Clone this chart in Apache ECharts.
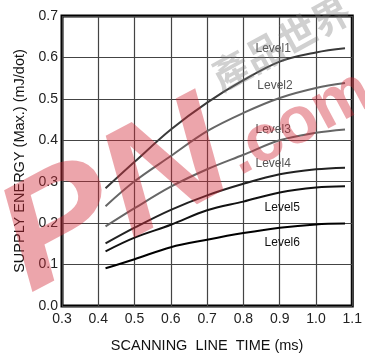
<!DOCTYPE html>
<html>
<head>
<meta charset="utf-8">
<script src="https://cdn.jsdelivr.net/npm/echarts@6/dist/echarts.min.js"></script>
<style>
  html, body { margin: 0; padding: 0; background: #fff; }
  #chart { width: 365px; height: 358px; }
</style>
</head>
<body>
<div id="chart"></div>
<script>
// scanning line time (ms)
const lineTimes = [0.42, 0.5, 0.6, 0.7, 0.8, 0.9, 1.0, 1.08]
const levelNames = ['Level1', 'Level2', 'Level3', 'Level4', 'Level5', 'Level6']
// supply energy (mJ/dot)
const level1 = [0.284, 0.348, 0.426, 0.491, 0.545, 0.590, 0.612, 0.622]
const level2 = [0.241, 0.301, 0.362, 0.422, 0.466, 0.502, 0.526, 0.538]
const level3 = [0.192, 0.236, 0.288, 0.330, 0.365, 0.400, 0.418, 0.426]
const level4 = [0.151, 0.189, 0.232, 0.267, 0.295, 0.318, 0.330, 0.334]
const level5 = [0.132, 0.165, 0.196, 0.231, 0.252, 0.274, 0.286, 0.289]
const level6 = [0.091, 0.113, 0.142, 0.160, 0.176, 0.189, 0.197, 0.199]
const xTicks = [0.3, 0.4, 0.5, 0.6, 0.7, 0.8, 0.9, 1.0, 1.1]
const yTicks = [0.0, 0.1, 0.2, 0.3, 0.4, 0.5, 0.6, 0.7]

const levels = [level1, level2, level3, level4, level5, level6]
// where each level's name is written (data units)
const labelAnchors = [[0.882, 0.621], [0.887, 0.532], [0.882, 0.426], [0.882, 0.344], [0.907, 0.238], [0.907, 0.154]]
const lineColors = ['#3a3a3a', '#666', '#666', '#222', '#111', '#000']
const labelColors = ['#555', '#555', '#555', '#555', '#111', '#111']

const font = 'Liberation Sans, Arial, sans-serif'
const myChart = echarts.init(document.getElementById('chart'))

const series = levels.map(function (vals, i) {
  return {
    name: levelNames[i],
    type: 'line',
    smooth: 0.35,
    showSymbol: false,
    symbol: 'none',
    z: 3,
    lineStyle: { color: lineColors[i], width: 2 },
    data: vals.map(function (v, j) { return [lineTimes[j], v] }),
    markPoint: {
      symbol: 'circle',
      symbolSize: 1,
      itemStyle: { color: 'rgba(0,0,0,0)' },
      label: {
        show: true,
        position: 'inside',
        formatter: levelNames[i],
        color: labelColors[i],
        fontFamily: font,
        fontSize: 12
      },
      data: [{ coord: labelAnchors[i] }]
    }
  }
})

const option = {
  animation: false,
  backgroundColor: '#fff',
  grid: {
    left: 62, right: 10, top: 16, bottom: 51,
    show: true,
    borderColor: '#000',
    borderWidth: 3
  },
  xAxis: {
    type: 'value',
    min: xTicks[0],
    max: xTicks[xTicks.length - 1],
    interval: 0.1,
    name: 'SCANNING  LINE  TIME (ms)',
    nameLocation: 'middle',
    nameGap: 32,
    nameTextStyle: { fontFamily: font, fontSize: 14.5, color: '#111' },
    axisLine: { show: false },
    axisTick: { show: false },
    axisLabel: {
      margin: 6,
      fontFamily: font, fontSize: 14, color: '#222',
      formatter: function (v) { return v.toFixed(1) }
    },
    splitLine: { show: true, lineStyle: { color: '#444', width: 1.2 } }
  },
  yAxis: {
    type: 'value',
    min: yTicks[0],
    max: yTicks[yTicks.length - 1],
    interval: 0.1,
    name: 'SUPPLY ENERGY (Max.) (mJ/dot)',
    nameLocation: 'middle',
    nameGap: 33,
    nameTextStyle: { fontFamily: font, fontSize: 14.5, color: '#111' },
    axisLine: { show: false },
    axisTick: { show: false },
    axisLabel: {
      margin: 4,
      fontFamily: font, fontSize: 14, color: '#222',
      formatter: function (v) { return v.toFixed(1) }
    },
    splitLine: { show: true, lineStyle: { color: '#444', width: 1.2 } }
  },
  // watermark laid over the picture
  graphic: [
    {
      type: 'text', left: -25, top: 78, rotation: 0.49, scaleX: 1.15, z: 100,
      style: {
        text: 'PN', font: 'italic bold 150px Liberation Sans',
        fill: 'rgba(210,40,55,0.42)'
      }
    },
    {
      type: 'text', left: 216, top: 58, rotation: 0.49, z: 100,
      style: {
        text: '.com', font: 'bold 66px Liberation Sans',
        fill: 'rgba(210,40,55,0.42)'
      }
    },
    {
      type: 'text', left: 205, top: -10, rotation: 0.5, z: 99,
      style: {
        text: '產品世界', font: 'bold 38px Noto Sans CJK TC',
        fill: 'rgba(120,120,120,0.35)'
      }
    }
  ],
  series: series
}

myChart.setOption(option)
window.addEventListener('resize', function () {
  myChart.resize()
})
</script>
</body>
</html>
